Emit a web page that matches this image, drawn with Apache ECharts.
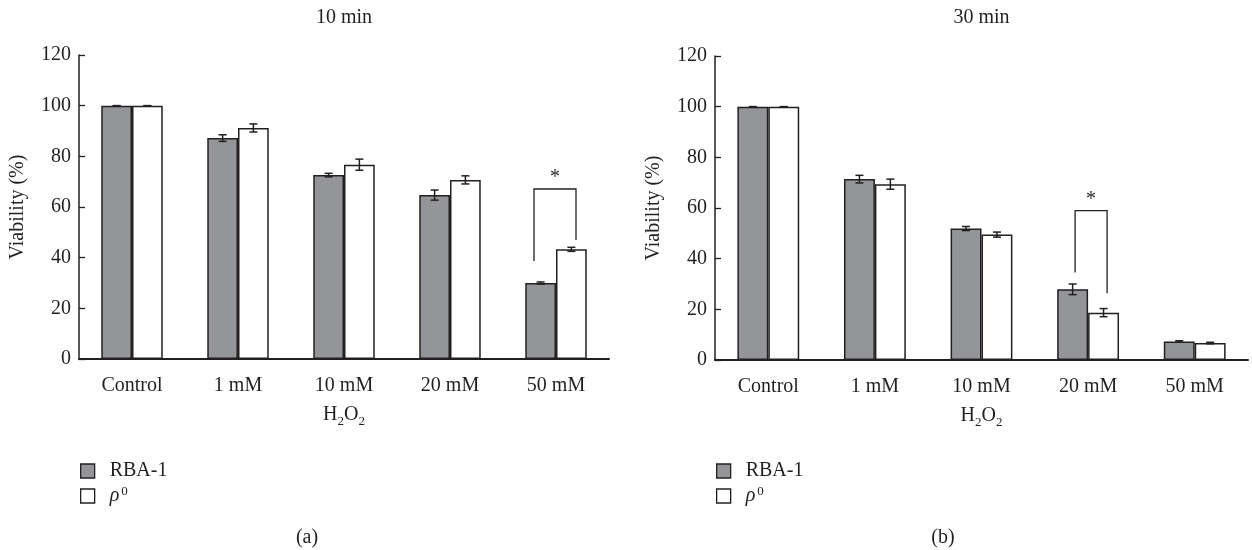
<!DOCTYPE html>
<html><head><meta charset="utf-8">
<script src="https://cdn.jsdelivr.net/npm/echarts@6/dist/echarts.min.js"></script>
<style>html,body{margin:0;padding:0;background:#fff}#c{width:1252px;height:550px}</style>
</head><body><div id="c"></div>
<script>
// ---- data ----
const categories = ['Control', '1 mM', '10 mM', '20 mM', '50 mM'];
const yTicks = [0, 20, 40, 60, 80, 100, 120];
const panelTitles = ['10 min', '30 min'];
const panelTags = ['(a)', '(b)'];
const seriesNames = ['RBA-1', 'ρ0'];
const rba10 = [100, 87.2, 72.6, 64.7, 30.0];
const rba10Err = [0, 1.3, 0.7, 2.0, 0.4];
const rho10 = [100, 91.2, 76.7, 70.7, 43.3];
const rho10Err = [0, 1.6, 2.2, 1.6, 0.8];
const rba30 = [100, 71.4, 51.9, 27.9, 7.3];
const rba30Err = [0, 1.5, 0.8, 2.1, 0.3];
const rho30 = [100, 69.4, 49.5, 18.7, 6.7];
const rho30Err = [0, 2.0, 1.0, 1.6, 0.3];
// significance brackets: [category index, bracket top, left foot, right foot]
const sig10 = [[4, 67.1, 38.7, 47.0]];
const sig30 = [[3, 59.0, 34.5, 26.3]];

// ---- style ----
const INK = '#231f20';
const GRAY = '#939598';
const FONT = '"Liberation Serif", "Times New Roman", serif';
const FS = 20;
const BARW = 0.29;
const grids = [
  { left: 79, top: 55, width: 530, height: 304 },
  { left: 715, top: 56, width: 533, height: 304 }
];
const bracketOffsets = [[-22, 20], [-13, 19]];

function errSeries(gi, vals, errs, side) {
  return {
    type: 'custom', xAxisIndex: gi, yAxisIndex: gi, z: 5, silent: true,
    encode: { x: 0, y: 1 },
    data: vals.map((v, i) => [i, v, errs[i]]),
    renderItem: function (params, api) {
      const i = api.value(0), v = api.value(1), e = api.value(2);
      const c = api.coord([i, v]);
      const band = api.size([1, 0])[0];
      const x = c[0] + side * band * BARW / 2;
      const yt = api.coord([i, v + e])[1];
      const yb = api.coord([i, v - e])[1];
      const st = { stroke: INK, lineWidth: 1.5 };
      return { type: 'group', children: [
        { type: 'line', shape: { x1: x, y1: yt, x2: x, y2: yb }, style: st },
        { type: 'line', shape: { x1: x - 4, y1: yt, x2: x + 4, y2: yt }, style: st },
        { type: 'line', shape: { x1: x - 4, y1: yb, x2: x + 4, y2: yb }, style: st }
      ] };
    }
  };
}
function sigSeries(gi, data) {
  return {
    type: 'custom', xAxisIndex: gi, yAxisIndex: gi, z: 6, silent: true,
    encode: { x: 0, y: 1 },
    data: data,
    renderItem: function (params, api) {
      const i = api.value(0);
      const c = api.coord([i, api.value(1)]);
      const xl = c[0] + bracketOffsets[gi][0], xr = c[0] + bracketOffsets[gi][1];
      const yl = api.coord([i, api.value(2)])[1];
      const yr = api.coord([i, api.value(3)])[1];
      return { type: 'group', children: [
        { type: 'polyline', shape: { points: [[xl, yl], [xl, c[1]], [xr, c[1]], [xr, yr]] },
          style: { stroke: INK, lineWidth: 1.3, fill: null } },
        { type: 'text', x: (xl + xr) / 2, y: c[1] - 11,
          style: { text: '*', font: FS + 'px ' + FONT, fill: INK, align: 'center', verticalAlign: 'middle' } }
      ] };
    }
  };
}
function barSeries(gi, name, vals, color) {
  return {
    type: 'bar', name: name, xAxisIndex: gi, yAxisIndex: gi, data: vals,
    barWidth: (BARW * 100) + '%', barGap: '0%',
    itemStyle: { color: color, borderColor: INK, borderWidth: 1.5 }
  };
}
const txt = { fontFamily: FONT, fontSize: FS, color: INK };

const option = {
  animation: false,
  backgroundColor: '#fff',
  grid: grids.map(g => Object.assign({ containLabel: false }, g)),
  xAxis: grids.map((g, gi) => ({
    type: 'category', gridIndex: gi, data: categories,
    axisLine: { lineStyle: { color: INK, width: 2 } },
    axisTick: { inside: true, length: 6, lineStyle: { color: INK, width: 1.3 } },
    axisLabel: Object.assign({ margin: 17 }, txt),
    name: 'H{sub|2}O{sub|2}', nameLocation: 'middle', nameGap: 43,
    nameTextStyle: Object.assign({ lineHeight: 26, rich: { sub: { fontFamily: FONT, fontSize: 13, color: INK, verticalAlign: 'bottom', lineHeight: 16 } } }, txt)
  })),
  yAxis: grids.map((g, gi) => ({
    type: 'value', gridIndex: gi, min: yTicks[0], max: yTicks[yTicks.length - 1], interval: yTicks[1] - yTicks[0],
    axisLine: { show: true, lineStyle: { color: INK, width: 1.5 } },
    axisTick: { show: true, inside: true, length: 6, lineStyle: { color: INK, width: 1.3 } },
    splitLine: { show: false },
    axisLabel: Object.assign({ margin: 8 }, txt),
    name: 'Viability (%)', nameLocation: 'middle', nameGap: 51, nameRotate: 90,
    nameTextStyle: txt
  })),
  legend: grids.map((g, gi) => ({
    left: g.left - 4, top: 456, orient: 'vertical', selectedMode: false,
    itemWidth: 14, itemHeight: 14, itemGap: 4,
    data: [
      { name: seriesNames[0], icon: 'rect', itemStyle: { color: GRAY, borderColor: INK, borderWidth: 1.3 } },
      { name: seriesNames[1], icon: 'rect', itemStyle: { color: '#fff', borderColor: INK, borderWidth: 1.3 } }
    ],
    formatter: n => n === 'ρ0' ? '{r|ρ}{s|0}' : n,
    textStyle: Object.assign({ padding: [0, 0, 0, 10], rich: {
      r: { fontFamily: FONT, fontSize: FS, fontStyle: 'italic', color: INK, lineHeight: 22 },
      s: { fontFamily: FONT, fontSize: 13, color: INK, verticalAlign: 'top', lineHeight: 6, padding: [0, 0, 0, 2] }
    } }, txt)
  })),
  graphic: [
    ...panelTitles.map((t, gi) => ({ type: 'text', x: grids[gi].left + grids[gi].width / 2, y: 18,
      style: { text: t, font: FS + 'px ' + FONT, fill: INK, align: 'center', verticalAlign: 'middle' } })),
    ...panelTags.map((t, gi) => ({ type: 'text', x: [307, 943][gi], y: 538,
      style: { text: t, font: FS + 'px ' + FONT, fill: INK, align: 'center', verticalAlign: 'middle' } }))
  ],
  series: [
    barSeries(0, seriesNames[0], rba10, GRAY),
    barSeries(0, seriesNames[1], rho10, '#fff'),
    barSeries(1, seriesNames[0], rba30, GRAY),
    barSeries(1, seriesNames[1], rho30, '#fff'),
    errSeries(0, rba10, rba10Err, -1),
    errSeries(0, rho10, rho10Err, 1),
    errSeries(1, rba30, rba30Err, -1),
    errSeries(1, rho30, rho30Err, 1),
    sigSeries(0, sig10),
    sigSeries(1, sig30)
  ]
};
echarts.init(document.getElementById('c')).setOption(option);
</script></body></html>
